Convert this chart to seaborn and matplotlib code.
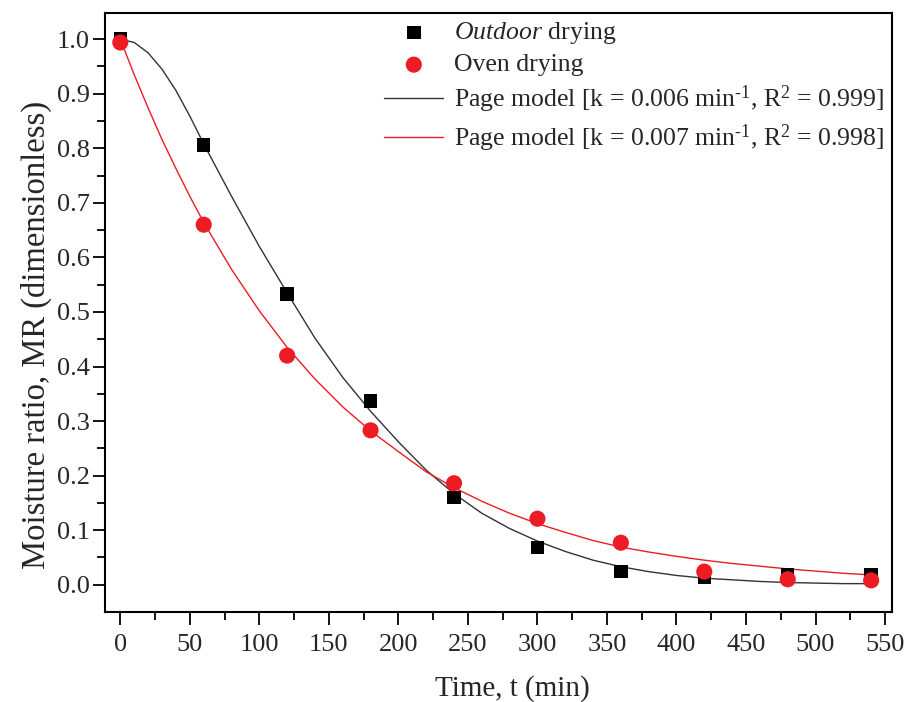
import numpy as np
import pandas as pd
import matplotlib
matplotlib.use("Agg")
import matplotlib.pyplot as plt
import seaborn as sns

# ---- data ----
time_pts = [0, 60, 120, 180, 240, 300, 360, 420, 480, 540]
outdoor_mr = [1.000, 0.806, 0.533, 0.337, 0.160, 0.068, 0.024, 0.014, 0.018, 0.019]
oven_mr = [0.994, 0.660, 0.420, 0.283, 0.186, 0.121, 0.077, 0.024, 0.010, 0.008]

# fitted Page model curves
curve_t = [0, 10, 20, 30, 40, 50, 60, 80, 100, 120, 140, 160, 180, 200, 220, 240,
           260, 280, 300, 320, 340, 360, 380, 400, 420, 440, 460, 480, 500, 520, 540]
outdoor_fit = [1.000, 0.994, 0.975, 0.945, 0.906, 0.859, 0.808, 0.712, 0.620, 0.535,
               0.452, 0.380, 0.318, 0.262, 0.210, 0.167, 0.131, 0.103, 0.080, 0.061,
               0.045, 0.033, 0.024, 0.017, 0.012, 0.009, 0.006, 0.004, 0.003, 0.002, 0.002]
oven_fit = [1.000, 0.935, 0.874, 0.816, 0.763, 0.712, 0.664, 0.578, 0.502, 0.435,
            0.377, 0.326, 0.282, 0.244, 0.207, 0.178, 0.153, 0.131, 0.112, 0.096,
            0.081, 0.069, 0.060, 0.052, 0.045, 0.039, 0.034, 0.029, 0.025, 0.021, 0.018]

labels = [r"$\mathit{Outdoor}$ drying", "Oven drying",
          "Page model [k = 0.006 min$^{\u2010 1}$, R$^2$ = 0.999]",
          "Page model [k = 0.007 min$^{\u2010 1}$, R$^2$ = 0.998]"]

x_ticks = [0, 50, 100, 150, 200, 250, 300, 350, 400, 450, 500, 550]
y_ticks = [0.0, 0.1, 0.2, 0.3, 0.4, 0.5, 0.6, 0.7, 0.8, 0.9, 1.0]

RED = "#ec1c24"

sns.set_style("ticks")
plt.rcParams["font.family"] = ["Liberation Serif", "DejaVu Serif"]
plt.rcParams["mathtext.fontset"] = "custom"
plt.rcParams["mathtext.rm"] = "Liberation Serif"
plt.rcParams["mathtext.it"] = "Liberation Serif:italic"
plt.rcParams["mathtext.bf"] = "Liberation Serif:bold"

fig = plt.figure(figsize=(9.06, 7.02), dpi=100)
ax = fig.add_axes([105/906, 1-612/702, (892-105)/906, (612-13)/702])

pts = pd.DataFrame({"t": time_pts, "outdoor": outdoor_mr, "oven": oven_mr})
fit = pd.DataFrame({"t": curve_t, "outdoor": outdoor_fit, "oven": oven_fit})

sns.lineplot(data=fit, x="t", y="outdoor", ax=ax, color="#333333", lw=1.0,
             label=labels[2], zorder=2)
sns.lineplot(data=fit, x="t", y="oven", ax=ax, color=RED, lw=1.0,
             label=labels[3], zorder=2)
sns.scatterplot(data=pts, x="t", y="outdoor", ax=ax, marker="s", s=95, color="black",
                edgecolor="none", label=labels[0], zorder=3)
sns.scatterplot(data=pts, x="t", y="oven", ax=ax, marker="o", s=135, color=RED,
                edgecolor="none", label=labels[1], zorder=4)

ax.set_xlim(-11, 555)
ax.set_ylim(-0.05, 1.048)
ax.set_xticks(x_ticks)
ax.set_yticks(y_ticks)
ax.set_xticklabels([str(v) for v in x_ticks])
ax.set_yticklabels([f"{v:.1f}" for v in y_ticks])
ax.set_xticks(np.arange(25, 550, 50), minor=True)
ax.set_yticks(np.arange(0.05, 1.0, 0.1), minor=True)
ax.tick_params(axis="both", which="major", direction="out", length=9, width=1.3,
               labelsize=19, color="black")
ax.tick_params(axis="both", which="minor", direction="out", length=5.5, width=1.3,
               color="black")
ax.tick_params(axis="x", pad=7)
ax.tick_params(axis="y", pad=2)
for sp in ax.spines.values():
    sp.set_linewidth(1.5)
    sp.set_color("black")

ax.set_xlabel("Time, t (min)", fontsize=21, va="baseline")
ax.set_ylabel("Moisture ratio, MR (dimensionless)", fontsize=23.5, va="baseline")
ax.xaxis.set_label_coords(0.517, (612 - 696) / 599)
ax.yaxis.set_label_coords((45 - 105) / 787, 0.462)

handles, labs = ax.get_legend_handles_labels()
order = [labs.index(l) for l in labels]
ax.legend([handles[i] for i in order], [labs[i] for i in order],
          loc="upper left", bbox_to_anchor=(0.332, 1.018), frameon=False,
          fontsize=18.5, handlelength=2.3, handletextpad=0.4, labelspacing=0.28,
          borderpad=0.2)

fig.savefig("out.png", dpi=100, facecolor="white")
